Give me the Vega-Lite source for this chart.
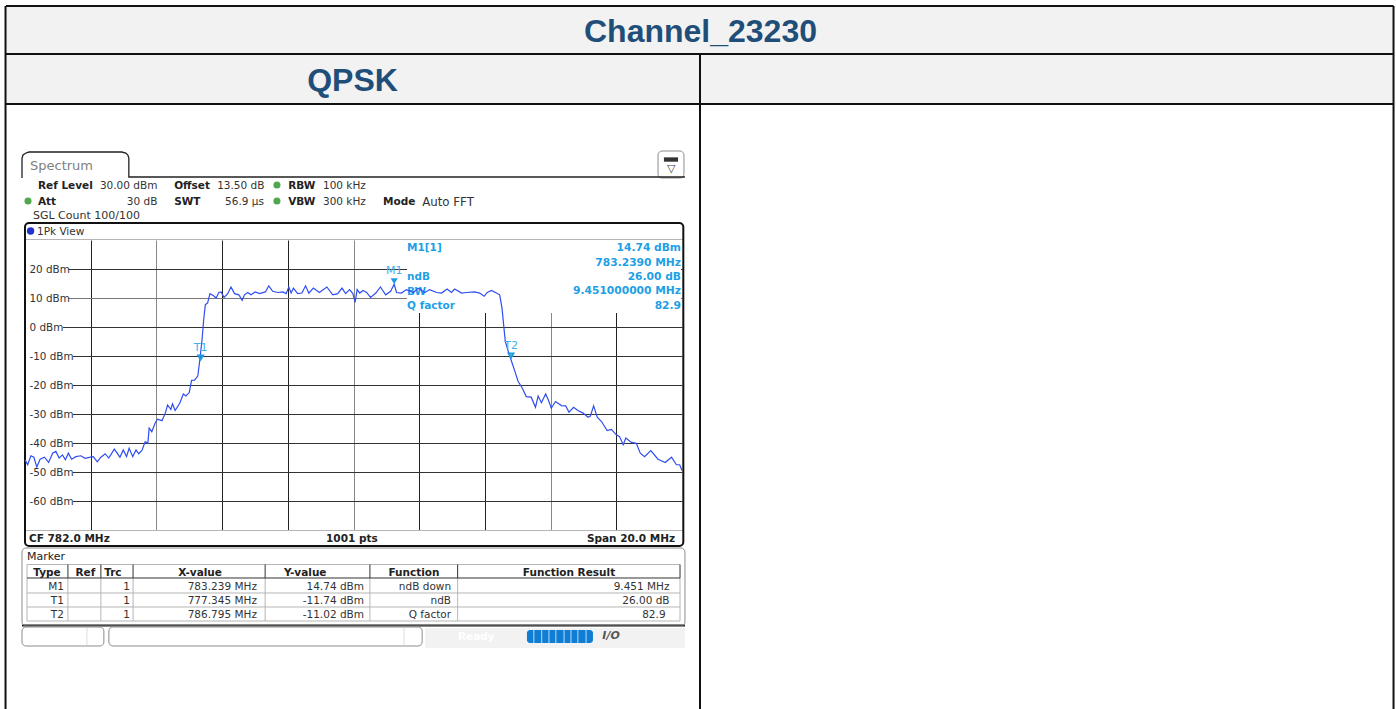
{
"$schema":"https://vega.github.io/schema/vega-lite/v6.json",
"width":657,"height":290,
"autosize":{"type":"none"},
"padding":{"left":25,"top":240,"right":714,"bottom":179},
"background":"white",
"config":{"view":{"stroke":null},"font":"DejaVu Sans"},
"resolve":{"axis":{"y":"independent","x":"independent"}},
"datasets":{
"trace":[
{"f":772.0,"d":-45.8},{"f":772.08,"d":-47.5},{"f":772.18,"d":-44.4},{"f":772.27,"d":-44.9},{"f":772.36,"d":-48.3},{"f":772.46,"d":-45.6},{"f":772.59,"d":-44.9},{"f":772.72,"d":-46.7},{"f":772.84,"d":-43.5},{"f":772.94,"d":-42.9},{"f":773.04,"d":-45.2},{"f":773.14,"d":-44.1},{"f":773.23,"d":-45.8},{"f":773.32,"d":-43.5},{"f":773.42,"d":-45.6},{"f":773.55,"d":-44.7},{"f":773.7,"d":-44.4},{"f":773.83,"d":-45.3},{"f":773.99,"d":-44.9},{"f":774.08,"d":-44.7},{"f":774.2,"d":-46.5},{"f":774.31,"d":-44.9},{"f":774.44,"d":-43.7},{"f":774.55,"d":-45.2},{"f":774.72,"d":-42.1},{"f":774.89,"d":-44.9},{"f":774.99,"d":-42.4},{"f":775.09,"d":-44.7},{"f":775.17,"d":-41.8},{"f":775.28,"d":-44.7},{"f":775.38,"d":-42.4},{"f":775.46,"d":-43.7},{"f":775.56,"d":-42.6},{"f":775.66,"d":-39.5},{"f":775.74,"d":-40.1},{"f":775.78,"d":-34.9},{"f":775.86,"d":-36.1},{"f":775.96,"d":-33.2},{"f":776.03,"d":-31.8},{"f":776.17,"d":-32.3},{"f":776.27,"d":-29.7},{"f":776.34,"d":-26.9},{"f":776.44,"d":-28.4},{"f":776.49,"d":-26.5},{"f":776.57,"d":-28.8},{"f":776.71,"d":-26.3},{"f":776.82,"d":-23.1},{"f":776.9,"d":-23.8},{"f":777.0,"d":-22.6},{"f":777.07,"d":-18.4},{"f":777.16,"d":-18.3},{"f":777.26,"d":-16.9},{"f":777.33,"d":-10.6},{"f":777.39,"d":-4.3},{"f":777.44,"d":2.6},{"f":777.49,"d":7.7},{"f":777.56,"d":8.3},{"f":777.63,"d":11.5},{"f":777.74,"d":10.8},{"f":777.82,"d":10.0},{"f":777.9,"d":11.9},{"f":777.97,"d":12.1},{"f":778.06,"d":10.2},{"f":778.17,"d":11.5},{"f":778.27,"d":13.8},{"f":778.38,"d":11.5},{"f":778.51,"d":11.1},{"f":778.61,"d":9.2},{"f":778.68,"d":11.1},{"f":778.78,"d":11.9},{"f":778.88,"d":11.1},{"f":779.01,"d":12.1},{"f":779.14,"d":11.5},{"f":779.32,"d":12.1},{"f":779.42,"d":14.2},{"f":779.54,"d":12.3},{"f":779.7,"d":11.9},{"f":779.85,"d":12.1},{"f":779.95,"d":11.5},{"f":780.03,"d":13.8},{"f":780.1,"d":11.7},{"f":780.17,"d":13.4},{"f":780.3,"d":11.5},{"f":780.43,"d":11.7},{"f":780.54,"d":14.2},{"f":780.64,"d":11.7},{"f":780.78,"d":13.4},{"f":780.96,"d":11.9},{"f":781.19,"d":13.8},{"f":781.37,"d":11.1},{"f":781.52,"d":11.5},{"f":781.65,"d":13.4},{"f":781.76,"d":11.5},{"f":781.88,"d":12.9},{"f":781.98,"d":11.5},{"f":782.05,"d":8.5},{"f":782.11,"d":12.9},{"f":782.19,"d":11.7},{"f":782.29,"d":12.6},{"f":782.4,"d":11.9},{"f":782.52,"d":10.2},{"f":782.68,"d":11.7},{"f":782.82,"d":13.8},{"f":782.98,"d":11.1},{"f":783.13,"d":12.3},{"f":783.239,"d":14.74},{"f":783.31,"d":11.9},{"f":783.46,"d":11.7},{"f":783.61,"d":12.9},{"f":783.82,"d":11.9},{"f":783.97,"d":13.4},{"f":784.17,"d":11.9},{"f":784.32,"d":12.9},{"f":784.53,"d":11.9},{"f":784.68,"d":11.7},{"f":784.85,"d":13.1},{"f":784.98,"d":11.9},{"f":785.08,"d":13.1},{"f":785.29,"d":11.7},{"f":785.44,"d":11.9},{"f":785.69,"d":12.1},{"f":785.84,"d":11.7},{"f":785.98,"d":10.6},{"f":786.07,"d":11.9},{"f":786.2,"d":12.6},{"f":786.35,"d":11.7},{"f":786.45,"d":11.1},{"f":786.52,"d":6.6},{"f":786.57,"d":0.8},{"f":786.62,"d":-4.9},{"f":786.71,"d":-8.4},{"f":786.81,"d":-11.8},{"f":786.91,"d":-15.2},{"f":787.01,"d":-18.7},{"f":787.14,"d":-21.1},{"f":787.26,"d":-24},{"f":787.41,"d":-24.2},{"f":787.54,"d":-27.7},{"f":787.62,"d":-23.8},{"f":787.72,"d":-26.1},{"f":787.85,"d":-23.1},{"f":787.94,"d":-25.4},{"f":788.02,"d":-28},{"f":788.15,"d":-25.7},{"f":788.33,"d":-27.1},{"f":788.46,"d":-27.2},{"f":788.56,"d":-29.4},{"f":788.7,"d":-27.7},{"f":788.83,"d":-28.8},{"f":788.99,"d":-29.7},{"f":789.14,"d":-31.1},{"f":789.21,"d":-30.7},{"f":789.31,"d":-27.2},{"f":789.42,"d":-31.1},{"f":789.55,"d":-32.6},{"f":789.72,"d":-35.7},{"f":789.85,"d":-35.3},{"f":790.0,"d":-37.2},{"f":790.1,"d":-37.8},{"f":790.21,"d":-40.6},{"f":790.29,"d":-38.3},{"f":790.46,"d":-39.8},{"f":790.61,"d":-40.1},{"f":790.73,"d":-43.5},{"f":790.86,"d":-44.7},{"f":791.05,"d":-42.6},{"f":791.27,"d":-45.6},{"f":791.49,"d":-46.7},{"f":791.68,"d":-44.9},{"f":791.83,"d":-47.5},{"f":791.93,"d":-47.5},{"f":792.0,"d":-49.5}
],
"markers":[{"t":"M1","f":783.239,"d":14.74},{"t":"T1","f":777.345,"d":-11.74},{"t":"T2","f":786.795,"d":-11.02}]
},
"encoding":{
"x":{"field":"f","type":"quantitative","scale":{"domain":[772,792],"nice":false,"zero":false},"axis":null},
"y":{"field":"d","type":"quantitative","scale":{"domain":[-70,30],"nice":false,"zero":false},"axis":null}
},
"layer":[
{"data":{"values":[
{"f":771.42,"f2":813.66,"d":110.34,"d2":94.48},
{"f":771.42,"f2":813.66,"d":93.79,"d2":77.24},
{"f":784.18,"f2":792.09,"d":-103.79,"d2":-110.69}
]},"mark":{"type":"rect","fill":"#f2f2f2"},
"encoding":{"x2":{"field":"f2"},"y2":{"field":"d2"}}},

{"data":{"values":[
{"f":783.63,"f2":791.97,"d":30,"d2":4.83}
]},"mark":{"type":"rect","fill":"#ffffff"},
"encoding":{
"x":{"field":"f","type":"quantitative","scale":{"domain":[772,792],"nice":false,"zero":false},
 "axis":{"values":[774,776,778,780,782,784,786,788,790],"grid":true,"labels":false,"ticks":false,"domain":false,"title":null,"gridWidth":1,"gridColor":{"condition":{"test":"indexof([776,782,788],datum.value)>=0","value":"#888888"},"value":"#222222"}}},
"y":{"field":"d","type":"quantitative","scale":{"domain":[-70,30],"nice":false,"zero":false},
 "axis":{"values":[20,10,0,-10,-20,-30,-40,-50,-60],"grid":true,"labels":false,"ticks":false,"domain":false,"title":null,"gridWidth":1,"gridColor":{"condition":{"test":"datum.value==10","value":"#777777"},"value":"#333333"}}},
"x2":{"field":"f2"},"y2":{"field":"d2"}}},

{"data":{"values":[
{"f":772.03,"f2":773.32,"d":21.5,"d2":18.5},
{"f":772.03,"f2":773.32,"d":11.5,"d2":8.5},
{"f":772.03,"f2":773.155,"d":1.5,"d2":-1.5},
{"f":772.03,"f2":773.46,"d":-8.5,"d2":-11.5},
{"f":772.03,"f2":773.46,"d":-18.5,"d2":-21.5},
{"f":772.03,"f2":773.46,"d":-28.5,"d2":-31.5},
{"f":772.03,"f2":773.46,"d":-38.5,"d2":-41.5},
{"f":772.03,"f2":773.46,"d":-48.5,"d2":-51.5},
{"f":772.03,"f2":773.46,"d":-58.5,"d2":-61.5}
]},"mark":{"type":"rect","fill":"#ffffff"},
"encoding":{
"y":{"field":"d","type":"quantitative","scale":{"domain":[-70,30],"nice":false,"zero":false},
 "axis":{"values":[20,10,0,-10,-20,-30,-40,-50,-60],"orient":"left","grid":false,"ticks":false,"tickSize":0,"domain":false,"title":null,"labelExpr":"datum.value + ' dBm'","labelAlign":"left","labelPadding":-4,"labelFont":"DejaVu Sans","labelFontSize":10.4,"labelColor":"#333333","labelOverlap":false,"labelBound":false,"labelFlush":false,"zindex":1}},
"x2":{"field":"f2"},"y2":{"field":"d2"}}},

{"data":{"values":[
{"f":771.42,"f2":813.66,"d":110.69,"d2":110.69},
{"f":771.42,"f2":813.66,"d":94.14,"d2":94.14},
{"f":771.42,"f2":813.66,"d":76.9,"d2":76.9},
{"f":771.407,"f2":771.407,"d":110.69,"d2":-131.72},
{"f":792.548,"f2":792.548,"d":94.14,"d2":-131.72},
{"f":813.66,"f2":813.66,"d":110.69,"d2":-131.72},
{"f":771.909,"f2":792.09,"d":-102.93,"d2":-102.93}
]},"mark":{"type":"rule","color":"#111111","strokeWidth":2},
"encoding":{"x2":{"field":"f2"},"y2":{"field":"d2"}}},

{"data":{"values":[
{"f":772,"f2":792.03,"d":30.17,"d2":30.17},
{"f":772,"f2":792.03,"d":-70.17,"d2":-70.17},
{"f":772.061,"f2":791.94,"d":-81.9,"d2":-81.9},
{"f":772.061,"f2":791.94,"d":-91.72,"d2":-91.72},
{"f":772.061,"f2":791.94,"d":-96.55,"d2":-96.55},
{"f":772.061,"f2":791.94,"d":-101.38,"d2":-101.38},
{"f":772.061,"f2":772.061,"d":-81.9,"d2":-101.38},
{"f":773.307,"f2":773.307,"d":-86.55,"d2":-101.38},
{"f":774.31,"f2":774.31,"d":-86.55,"d2":-101.38},
{"f":775.29,"f2":775.29,"d":-86.55,"d2":-101.38},
{"f":779.31,"f2":779.31,"d":-86.55,"d2":-101.38},
{"f":782.5,"f2":782.5,"d":-86.55,"d2":-101.38},
{"f":785.17,"f2":785.17,"d":-86.55,"d2":-101.38},
{"f":791.94,"f2":791.94,"d":-86.55,"d2":-101.38}
]},"mark":{"type":"rule","color":"#b5b5b5","strokeWidth":1},
"encoding":{"x2":{"field":"f2"},"y2":{"field":"d2"}}},

{"data":{"values":[
{"f":773.885,"f2":773.885,"d":-103.79,"d2":-109.6},
{"f":783.54,"f2":783.54,"d":-103.79,"d2":-109.6}
]},"mark":{"type":"rule","color":"#dddddd","strokeWidth":1},
"encoding":{"x2":{"field":"f2"},"y2":{"field":"d2"}}},

{"data":{"values":[
{"f":772.061,"f2":791.94,"d":-86.55,"d2":-86.55},
{"f":773.307,"f2":773.307,"d":-81.9,"d2":-86.55},
{"f":774.31,"f2":774.31,"d":-81.9,"d2":-86.55},
{"f":775.29,"f2":775.29,"d":-81.9,"d2":-86.55},
{"f":779.31,"f2":779.31,"d":-81.9,"d2":-86.55},
{"f":782.5,"f2":782.5,"d":-81.9,"d2":-86.55},
{"f":785.17,"f2":785.17,"d":-81.9,"d2":-86.55},
{"f":791.94,"f2":791.94,"d":-81.9,"d2":-86.55}
]},"mark":{"type":"rule","color":"#333333","strokeWidth":1},
"encoding":{"x2":{"field":"f2"},"y2":{"field":"d2"}}},

{"data":{"values":[
{"f":772,"f2":792.04,"d":35.86,"d2":-75.52}
]},"mark":{"type":"rect","filled":false,"stroke":"#111111","strokeWidth":2,"cornerRadius":4},
"encoding":{"x2":{"field":"f2"},"y2":{"field":"d2"}}},

{"data":{"values":[
{"f":771.909,"f2":792.09,"d":-76.21,"d2":-103.1},
{"f":771.909,"f2":774.401,"d":-103.45,"d2":-110},
{"f":774.553,"f2":784.09,"d":-103.45,"d2":-110},
{"f":791.27,"f2":792.06,"d":60.69,"d2":51.38}
]},"mark":{"type":"rect","filled":false,"stroke":"#8c8c8c","strokeWidth":1,"cornerRadius":4},
"encoding":{"x2":{"field":"f2"},"y2":{"field":"d2"}}},

{"data":{"values":[
{"o":1,"f":771.909,"d":51.38},{"o":2,"f":771.909,"d":58.28},{"o":3,"f":771.94,"d":59.31},{"o":4,"f":772.03,"d":60.0},{"o":5,"f":772.122,"d":60.34},{"o":6,"f":774.948,"d":60.34},{"o":7,"f":775.07,"d":60.0},{"o":8,"f":775.131,"d":59.31},{"o":9,"f":775.161,"d":58.28},{"o":10,"f":775.161,"d":51.72},{"o":11,"f":792.09,"d":51.72}
]},"mark":{"type":"line","color":"#222222","strokeWidth":1.3},
"encoding":{"order":{"field":"o","type":"quantitative"}}},

{"data":{"values":[{"f":791.45,"f2":791.88,"d":58.5,"d2":57.0}]},"mark":{"type":"rect","fill":"#333333"},
"encoding":{"x2":{"field":"f2"},"y2":{"field":"d2"}}},
{"data":{"values":[{"f":787.28,"f2":789.29,"d":-104.48,"d2":-108.97}]},"mark":{"type":"rect","fill":"#0f7dd3","cornerRadius":3},
"encoding":{"x2":{"field":"f2"},"y2":{"field":"d2"}}},
{"data":{"values":[
{"f":787.49,"d":-104.48,"d2":-108.97},{"f":787.73,"d":-104.48,"d2":-108.97},{"f":787.95,"d":-104.48,"d2":-108.97},{"f":788.16,"d":-104.48,"d2":-108.97},{"f":788.41,"d":-104.48,"d2":-108.97},{"f":788.62,"d":-104.48,"d2":-108.97},{"f":788.83,"d":-104.48,"d2":-108.97},{"f":789.08,"d":-104.48,"d2":-108.97}
]},"mark":{"type":"rule","color":"#bcdcf5","strokeWidth":1},
"encoding":{"y2":{"field":"d2"}}},

{"data":{"values":[{"f":779.67,"d":48.97},{"f":779.67,"d":43.45},{"f":772.091,"d":43.45}]},
"mark":{"type":"point","filled":true,"shape":"circle","size":50,"color":"#4fa84f","opacity":1}},
{"data":{"values":[{"f":772.17,"d":33.1}]},
"mark":{"type":"point","filled":true,"shape":"circle","size":55,"color":"#2233cc","opacity":1}},

{"data":{"values":[
{"t":"Channel_23230","f":792.563,"d":102.07},
{"t":"QPSK","f":781.97,"d":85.17}
]},"mark":{"type":"text","font":"Liberation Sans","fontWeight":"bold","fontSize":32,"color":"#1f4e79","align":"center","baseline":"middle","dy":1},
"encoding":{"text":{"field":"t"}}},

{"data":{"values":[{"t":"Spectrum","f":772.152,"d":55.86}]},
"mark":{"type":"text","fontSize":13,"color":"#808080","align":"left","baseline":"middle","dy":1},
"encoding":{"text":{"field":"t"}}},

{"data":{"values":[
{"t":"30.00 dBm","f":774.28,"d":48.97},
{"t":"13.50 dB","f":777.85,"d":48.97},
{"t":"100 kHz","f":781.07,"d":48.97},
{"t":"30 dB","f":775.1,"d":43.45},
{"t":"56.9 µs","f":778.09,"d":43.45},
{"t":"300 kHz","f":781.07,"d":43.45},
{"t":"1Pk View","f":772.365,"d":33.1}
]},"mark":{"type":"text","fontSize":10.5,"color":"#333333","align":"left","baseline":"middle","dy":1},
"encoding":{"text":{"field":"t"}}},

{"data":{"values":[
{"t":"SGL Count 100/100","f":772.243,"d":38.62}
]},"mark":{"type":"text","fontSize":11,"color":"#333333","align":"left","baseline":"middle","dy":1},
"encoding":{"text":{"field":"t"}}},
{"data":{"values":[
{"t":"Auto FFT","f":784.09,"d":43.45}
]},"mark":{"type":"text","fontSize":11.8,"color":"#333333","align":"left","baseline":"middle","dy":1},
"encoding":{"text":{"field":"t"}}},
{"data":{"values":[
{"t":"Marker","f":772.061,"d":-78.97}
]},"mark":{"type":"text","fontSize":11,"color":"#222222","align":"left","baseline":"middle","dy":1},
"encoding":{"text":{"field":"t"}}},

{"data":{"values":[
{"t":"Ref Level","f":772.395,"d":48.97},
{"t":"Offset","f":776.54,"d":48.97},
{"t":"RBW","f":780.01,"d":48.97},
{"t":"Att","f":772.395,"d":43.45},
{"t":"SWT","f":776.54,"d":43.45},
{"t":"VBW","f":780.01,"d":43.45},
{"t":"Mode","f":782.9,"d":43.45},
{"t":"CF 782.0 MHz","f":772.122,"d":-72.76}
]},"mark":{"type":"text","fontSize":10.5,"fontWeight":"bold","color":"#222222","align":"left","baseline":"middle","dy":1},
"encoding":{"text":{"field":"t"}}},

{"data":{"values":[
{"t":"1001 pts","f":781.95,"d":-72.76},
{"t":"Type","f":772.669,"d":-84.48},
{"t":"Ref","f":773.839,"d":-84.48},
{"t":"Trc","f":774.675,"d":-84.48},
{"t":"X-value","f":777.33,"d":-84.48},
{"t":"Y-value","f":780.53,"d":-84.48},
{"t":"Function","f":783.84,"d":-84.48},
{"t":"Function Result","f":788.56,"d":-84.48}
]},"mark":{"type":"text","fontSize":10.5,"fontWeight":"bold","color":"#222222","align":"center","baseline":"middle","dy":1},
"encoding":{"text":{"field":"t"}}},

{"data":{"values":[{"t":"Span 20.0 MHz","f":791.79,"d":-72.76}]},
"mark":{"type":"text","fontSize":10.5,"fontWeight":"bold","color":"#222222","align":"right","baseline":"middle","dy":1},
"encoding":{"text":{"field":"t"}}},

{"data":{"values":[
{"t":"M1","f":773.185,"d":-89.31},{"t":"T1","f":773.185,"d":-94.14},{"t":"T2","f":773.185,"d":-98.97},
{"t":"1","f":775.191,"d":-89.31},{"t":"1","f":775.191,"d":-94.14},{"t":"1","f":775.191,"d":-98.97},
{"t":"783.239 MHz","f":779.06,"d":-89.31},{"t":"777.345 MHz","f":779.06,"d":-94.14},{"t":"786.795 MHz","f":779.06,"d":-98.97},
{"t":"14.74 dBm","f":782.32,"d":-89.31},{"t":"-11.74 dBm","f":782.32,"d":-94.14},{"t":"-11.02 dBm","f":782.32,"d":-98.97},
{"t":"ndB down","f":784.97,"d":-89.31},{"t":"ndB","f":784.97,"d":-94.14},{"t":"Q factor","f":784.97,"d":-98.97},
{"t":"9.451 MHz","f":791.62,"d":-89.31},{"t":"26.00 dB","f":791.62,"d":-94.14},{"t":"82.9","f":791.5,"d":-98.97}
]},"mark":{"type":"text","fontSize":10.5,"color":"#333333","align":"right","baseline":"middle","dy":1},
"encoding":{"text":{"field":"t"}}},

{"data":{"values":[{"t":"Ready","f":785.18,"d":-106.55}]},
"mark":{"type":"text","fontSize":10.5,"fontWeight":"bold","color":"#ffffff","align":"left","baseline":"middle","dy":1},
"encoding":{"text":{"field":"t"}}},
{"data":{"values":[{"t":"I/O","f":789.84,"d":-106.55}]},
"mark":{"type":"text","fontSize":11,"fontWeight":"bold","fontStyle":"italic","color":"#555555","align":"center","baseline":"middle"},
"encoding":{"text":{"field":"t"}}},
{"data":{"values":[{"t":"▽","f":791.67,"d":54.48}]},
"mark":{"type":"text","fontSize":11,"color":"#444444","align":"center","baseline":"middle"},
"encoding":{"text":{"field":"t"}}},

{"data":{"values":[
{"t":"M1[1]","f":783.63,"d":27.59},
{"t":"ndB","f":783.63,"d":17.59},
{"t":"BW","f":783.63,"d":12.41},
{"t":"Q factor","f":783.63,"d":7.59}
]},"mark":{"type":"text","fontSize":10.5,"fontWeight":"bold","color":"#1e9fe6","align":"left","baseline":"middle","dy":1},
"encoding":{"text":{"field":"t"}}},
{"data":{"values":[
{"t":"14.74 dBm","f":791.97,"d":27.59},
{"t":"783.2390 MHz","f":791.97,"d":22.41},
{"t":"26.00 dB","f":791.97,"d":17.59},
{"t":"9.451000000 MHz","f":791.97,"d":12.76},
{"t":"82.9","f":791.97,"d":7.59}
]},"mark":{"type":"text","fontSize":10.7,"fontWeight":"bold","color":"#1e9fe6","align":"right","baseline":"middle","dy":1},
"encoding":{"text":{"field":"t"}}},

{"data":{"name":"trace"},"mark":{"type":"line","color":"#2f4df0","strokeWidth":1.2,"interpolate":"linear"}},

{"data":{"name":"markers"},"transform":[{"filter":"datum.t=='M1'"}],
"mark":{"type":"point","filled":true,"shape":"triangle-down","size":50,"color":"#1c9be0","opacity":1,"yOffset":-3}},
{"data":{"name":"markers"},"transform":[{"filter":"datum.t!='M1'"}],
"mark":{"type":"point","filled":false,"shape":"triangle-down","size":22,"color":"#1c9be0","opacity":1,"yOffset":-3.5}},
{"data":{"name":"markers"},
"mark":{"type":"text","fontSize":11,"color":"#45aef0","align":"center","baseline":"middle","dy":-13},
"encoding":{"text":{"field":"t"}}}
]
}
